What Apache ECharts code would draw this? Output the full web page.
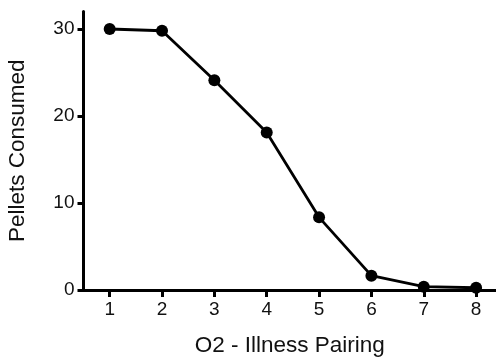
<!DOCTYPE html>
<html><head><meta charset="utf-8">
<script src="https://cdn.jsdelivr.net/npm/echarts@6/dist/echarts.min.js"></script>
<style>html,body{margin:0;padding:0;background:#fff}#c{width:496px;height:357px}</style>
</head><body><div id="c"></div>
<script>
var pairings = [1, 2, 3, 4, 5, 6, 7, 8];
var pellets = [30.0, 29.8, 24.1, 18.1, 8.35, 1.65, 0.38, 0.26];
var xTicks = [1, 2, 3, 4, 5, 6, 7, 8];
var yTicks = [0, 10, 20, 30];
var xTitle = 'O2 - Illness Pairing';
var yTitle = 'Pellets Consumed';

var FONT = '"Liberation Sans", Arial, sans-serif';
var chart = echarts.init(document.getElementById('c'), null, {renderer: 'canvas'});
chart.setOption({
  animation: false,
  backgroundColor: '#fff',
  grid: {left: 83.5, right: 0, top: 11.6, bottom: 67, containLabel: false, outerBoundsMode: 'none'},
  xAxis: {
    type: 'value', min: 0.5, max: 8.38,
    name: xTitle, nameLocation: 'middle', nameGap: 44,
    nameTextStyle: {fontFamily: FONT, fontSize: 22.5, color: '#111'},
    axisLine: {show: true, onZero: false, lineStyle: {color: '#000', width: 3}},
    axisTick: {show: true, length: 7, customValues: xTicks, lineStyle: {color: '#000', width: 3}},
    axisLabel: {customValues: xTicks, margin: 10, fontFamily: FONT, fontSize: 19, color: '#111'},
    splitLine: {show: false}
  },
  yAxis: {
    type: 'value', min: 0, max: 32,
    name: yTitle, nameLocation: 'middle', nameGap: 54, nameRotate: 90,
    nameTextStyle: {fontFamily: FONT, fontSize: 22.5, color: '#111'},
    axisLine: {show: true, lineStyle: {color: '#000', width: 3}},
    axisTick: {show: true, length: 6, customValues: yTicks, lineStyle: {color: '#000', width: 3}},
    axisLabel: {customValues: yTicks, margin: 9, fontFamily: FONT, fontSize: 19, color: '#111'},
    splitLine: {show: false}
  },
  series: [{
    type: 'line',
    data: pairings.map(function (x, i) { return [x, pellets[i]]; }),
    symbol: 'circle', symbolSize: 12,
    itemStyle: {color: '#000'},
    lineStyle: {color: '#000', width: 2.8},
    clip: false
  }]
});
</script></body></html>
